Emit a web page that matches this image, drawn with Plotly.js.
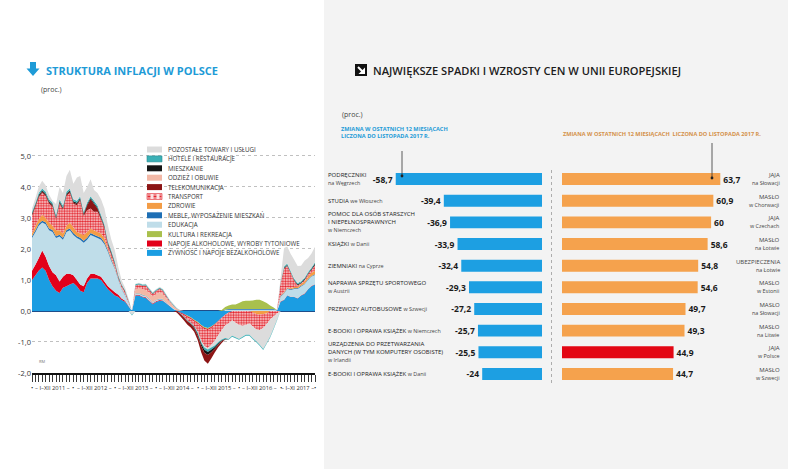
<!DOCTYPE html>
<html><head><meta charset="utf-8">
<script src="https://cdn.plot.ly/plotly-3.0.1.min.js"></script>
<style>html,body{margin:0;padding:0;background:#fff;}#chart{width:788px;height:469px;}</style>
</head><body><div id="chart"></div>
<script>
// ---------- DATA: inflation structure (percentage points), Jan 2011 - Nov 2017 ----------
const years = ['2011','2012','2013','2014','2015','2016','2017'];
const yearRanges = ['I–XII','I–XII','I–XII','I–XII','I–XII','I–XII','I–XI'];
const yTickVals = [-2,-1,0,1,2,3,4,5];
const yTickText = ['-2,0','-1,0','0,0','1,0','2,0','3,0','4,0','5,0'];

const zywnosc = [1.0,1.15,1.3,1.4,1.3,1.0,0.8,0.65,0.58,0.75,0.8,0.85,
 0.9,0.8,0.65,0.6,0.9,1.05,1.05,1.05,1.0,0.85,0.7,0.6,
 0.5,0.45,0.35,0.3,0.15,0,0.5,0.5,0.45,0.42,0.32,0.22,
 0.3,0.33,0.32,0.24,0.15,0.06,0,-0.05,-0.1,-0.15,-0.2,-0.28,
 -0.35,-0.45,-0.52,-0.55,-0.5,-0.42,-0.32,-0.22,-0.12,-0.05,0,0,
 0,0,0,0,0,0,0,0,0,0,0,0,
 0.3,0.35,0.5,0.45,0.45,0.4,0.5,0.55,0.7,0.8,0.85];
const alkohol = [0.3,0.35,0.4,0.55,0.45,0.45,0.45,0.5,0.37,0.35,0.4,0.35,
 0.25,0.2,0.2,0.2,0.15,0.15,0.15,0.1,0.1,0.1,0.1,0.1,
 0.1,0.07,0.05,0.03,0.02,0,0.02,0.02,0.02,0.02,0.02,0.02,
 0.02,0.02,0.02,0.01,0.01,0,0,-0.02,-0.03,-0.03,-0.03,-0.03,
 -0.03,-0.03,-0.03,-0.03,-0.03,-0.02,-0.02,0,0,0,0,0,
 0,0,0,0,0,0,0,0,0,0,0,0,
 0.01,0.01,0.01,0.01,0.01,0.01,0.01,0.01,0.01,0.01,0.01];
const kultura = [0,0,0,0,0,0,0,0,0,0,0,0,
 0,0,0,0,0,0,0,0,0,0,0,0,
 0,0,0,0,0,0,0,0,0,0,0,0,
 0,0,0,0,0,0,0,0,0,-0.02,-0.03,-0.03,
 -0.03,-0.03,-0.03,-0.03,-0.02,-0.02,0,0.03,0.08,0.12,0.15,0.15,
 0.2,0.25,0.27,0.27,0.28,0.3,0.3,0.25,0.2,0.12,0.05,0,
 0,0,0,0,0,0,0,0,0,0,0];
const edukacja = [1.05,1.05,1.05,0.9,1.05,1.15,1.3,1.2,1.45,1.2,1.35,1.4,
 1.3,1.35,1.45,1.4,1.25,1.25,1.2,1.2,1.2,1.2,1.1,0.9,
 0.75,0.48,0.3,0.17,0.08,0,0.04,0.04,0.04,0.04,0.04,0.03,
 0.03,0.03,0.03,0.02,0.02,0.02,0.01,0,0,0,0,0,
 0,0,0,0,0,0,0,0,0.03,0.04,0.04,0.04,
 0.04,0.04,0.04,0.04,0.04,0.04,0.04,0.04,0.04,0.04,0.04,0.02,
 0.15,0.2,0.2,0.22,0.25,0.3,0.28,0.3,0.3,0.3,0.3];
const meble = [0.06,0.06,0.06,0.06,0.06,0.06,0.06,0.06,0.06,0.06,0.06,0.06,
 0.06,0.06,0.06,0.06,0.06,0.06,0.06,0.06,0.06,0.06,0.05,0.05,
 0.03,0.03,0.02,0.02,0.01,0,0.01,0.01,0.01,0.01,0.01,0.01,
 0.01,0.01,0.01,0.01,0,0,0,0,0,0,0,0,
 0,0,0,0,0,0,0,0,0.02,0.02,0.02,0.02,
 0.02,0.02,0.02,0.02,0.02,0.02,0.02,0.02,0.02,0.02,0.02,0.01,
 0.02,0.02,0.02,0.02,0.02,0.02,0.02,0.02,0.02,0.02,0.02];
const zdrowie = [0.09,0.14,0.14,0.19,0.14,0.19,0.14,0.19,0.14,0.14,0.14,0.19,
 0.19,0.14,0.14,0.19,0.19,0.14,0.14,0.14,0.14,0.14,0.05,0.05,
 0.02,0.02,0,0,0,0,0.01,0.01,0.01,0.01,0.01,0.01,
 0.01,0.01,0.01,0.01,0,0,0,0,0,0,0,0,
 0,0,0,0,0,0,0,0,0,0,0,0,
 0,0,0,0,-0.05,-0.1,-0.12,-0.1,-0.08,0,0,0,
 0.02,0.03,0.03,0.03,0.05,0.05,0.06,0.07,0.08,0.1,0.12];
const odziez = [0,0,0,0,0,0,0,0,0,0,0,0,
 0,0,0,0,0,0,0,0,0,0,0,0,
 0,0,0.03,0.03,0.02,0,0.12,0.15,0.18,0.18,0.18,0.18,
 0.18,0.2,0.16,0.12,0.1,0.08,0.05,0.02,0,0,0,0,
 0,0,0,0,0,0,0,0,0,0,0,0,
 0,0,0,0,0,0,0,0,0,0,0,0,
 0,0,0,0,0,0,0,0,0,0,0];
const transport = [0.56,0.61,0.71,0.71,0.71,0.61,0.61,0.36,0.86,0.76,0.96,0.96,
 0.76,0.86,1.06,0.61,0.7,0.65,0.6,0.65,0.46,0.31,0.11,0.11,
 0.1,0.02,0.06,0.06,0.04,0,0.12,0.12,0.1,0.14,0.1,0.08,
 0.1,0.12,0.1,0.06,0.03,0.02,0.01,0,-0.05,-0.1,-0.12,-0.15,
 -0.25,-0.45,-0.55,-0.58,-0.55,-0.5,-0.45,-0.4,-0.35,-0.35,-0.3,-0.38,
 -0.45,-0.48,-0.45,-0.4,-0.45,-0.5,-0.5,-0.45,-0.35,-0.28,-0.18,-0.08,
 0.4,0.75,0.7,0.5,0.2,0.05,0.02,0.05,0.08,0.1,0.18];
const telekom = [0.04,0.04,0.04,0.04,0.04,0.04,0.04,0.04,0.04,0.04,0.04,0.04,
 0.04,0.04,0.04,0.04,0.15,0.3,0.25,0.1,0.04,0.04,0.04,0.04,
 0.02,0.02,0.01,0.01,0,0,0,0,0,0,0,0,
 0,0,0,0,0,0,-0.05,-0.08,-0.1,-0.12,-0.12,-0.12,
 -0.15,-0.2,-0.25,-0.28,-0.2,-0.12,-0.08,-0.05,0,0,0,0,
 0,0,0,0,0,0,0,0,0,0,0,0,
 0,0,0,0,0,0,0,0,0,0,0];
const mieszkanie = [0.04,0.04,0.04,0.04,0.04,0.04,0.04,0.04,0.04,0.04,0.04,0.04,
 0.04,0.04,0.04,0.04,0.04,0.04,0.04,0.04,0.04,0.04,0.04,0.04,
 0.03,0.02,0.02,0.02,0.01,0,0.01,0.01,0.01,0.01,0.01,0.01,
 0.01,0.01,0.01,0.01,0,0,0,0,0,0,0,-0.03,
 -0.05,-0.07,-0.1,-0.1,-0.08,-0.06,-0.04,-0.03,-0.02,0,0,0,
 0,0,0,0,0,0,0,0,0,0,0,0,
 0.01,0.03,0.03,0.02,0.03,0.03,0.03,0.03,0.03,0.03,0.05];
const hotele = [0.06,0.06,0.06,0.06,0.06,0.06,0.06,0.06,0.06,0.06,0.06,0.06,
 0.06,0.06,0.06,0.06,0.06,0.06,0.06,0.06,0.06,0.06,0.06,0.06,
 0.05,0.04,0.03,0.03,0.03,-0.03,0.03,0.03,0.03,0.03,0.03,0.03,
 0.03,0.03,0.03,0.03,0.03,0.03,0.02,-0.02,-0.02,-0.02,-0.03,-0.03,
 -0.05,-0.05,-0.07,-0.08,-0.07,-0.05,-0.04,-0.03,-0.03,-0.03,-0.03,-0.03,
 -0.03,-0.03,-0.03,-0.03,-0.03,-0.03,-0.03,-0.03,-0.03,-0.03,-0.03,-0.03,
 0.03,0.04,0.04,0.04,0.04,0.04,0.04,0.04,0.04,0.04,0.04];
const pozostale = [0.1,0.15,0.2,0.25,0.2,0.15,0.05,0.35,0.4,0.4,0.5,0.6,
 0.5,0.75,0.65,0.6,0.5,0.55,0.35,0.4,0.5,0.5,0.5,0.35,
 0.35,0.25,0.13,0.08,0.04,-0.12,0.02,0.02,0.02,0.02,0.02,0.02,
 0.02,0.02,0.02,0.02,0.02,0.02,0.01,0,0,0,0,0,
 -0.03,-0.05,-0.05,-0.05,-0.08,-0.15,-0.22,-0.3,-0.4,-0.5,-0.5,-0.47,
 -0.45,-0.35,-0.32,-0.37,-0.38,-0.38,-0.47,-0.68,-0.6,-0.55,-0.38,-0.2,
 0.1,0.6,0.55,0.55,0.6,0.55,0.5,0.55,0.45,0.45,0.5];

const legendNames = ['POZOSTAŁE TOWARY I USŁUGI','HOTELE I RESTAURACJE','MIESZKANIE','ODZIEŻ I OBUWIE',
 'TELEKOMUNIKACJA','TRANSPORT','ZDROWIE','MEBLE, WYPOSAŻENIE MIESZKAŃ','EDUKACJA','KULTURA I REKREACJA',
 'NAPOJE ALKOHOLOWE, WYROBY TYTONIOWE','ŻYWNOŚĆ I NAPOJE BEZALKOHOLOWE'];

// ---------- DATA: EU price changes (%), 12 months to Nov 2017 ----------
const leftProducts = ['PODRĘCZNIKI','STUDIA','POMOC DLA OSÓB STARSZYCH<br>I NIEPEŁNOSPRAWNYCH','KSIĄŻKI','ZIEMNIAKI',
 'NAPRAWA SPRZĘTU SPORTOWEGO','PRZEWOZY AUTOBUSOWE','E-BOOKI I OPRAWA KSIĄŻEK',
 'URZĄDZENIA DO PRZETWARZANIA<br>DANYCH (W TYM KOMPUTERY OSOBISTE)','E-BOOKI I OPRAWA KSIĄŻEK'];
const leftPlaces = ['na Węgrzech','we Włoszech','w Niemczech','w Danii','na Cyprze','w Austrii','w Szwecji','w Niemczech','w Irlandii','w Danii'];
const leftValues = [-58.7,-39.4,-36.9,-33.9,-32.4,-29.3,-27.2,-25.7,-25.5,-24];
const rightProducts = ['JAJA','MASŁO','JAJA','MASŁO','UBEZPIECZENIA','MASŁO','MASŁO','MASŁO','JAJA','MASŁO'];
const rightPlaces = ['na Słowacji','w Chorwacji','w Czechach','na Łotwie','na Łotwie','w Estonii','na Słowacji','na Litwie','w Polsce','w Szwecji'];
const rightValues = [63.7,60.9,60,58.6,54.8,54.6,49.7,49.3,44.9,44.7];

// ---------- build ----------
const W = 788, H = 469;
const px = x => x / W, py = y => 1 - y / H;
const FONT = 'Open Sans, sans-serif';

const months = [];
years.forEach(y => { for (let m = 1; m <= 12; m++) { if (y === '2017' && m > 11) break; months.push(y + '-' + String(m).padStart(2, '0') + '-01'); } });

const S = {F: zywnosc, A: alkohol, C: kultura, E: edukacja, M: meble, Z: zdrowie, O: odziez, T: transport,
  K: telekom, H: mieszkanie, R: hotele, P: pozostale};
const COL = {F:'#1b9de2', A:'#e2001a', C:'#a9c04d', E:'#bfdde9', M:'#1e6fb5', Z:'#f39c45', O:'#f2b8a6',
  T:'#ffffff', K:'#8c1515', H:'#151515', R:'#3bb0b6', P:'#dcdcdc'};
const legendKeys = ['P','R','H','O','K','T','Z','M','E','C','A','F'];
const posOrder = ['F','A','E','M','Z','O','T','K','H','R','P','C'];
const negOrder = ['F','C','A','E','M','Z','O','T','P','R','H','K'];
const pattern = {shape: '.', fgcolor: '#e3262f', bgcolor: '#fbe3e3', size: 2.6, solidity: 0.55};

const traces = [];
function addStack(order, grp, sel) {
  order.forEach(k => {
    const t = {type: 'scatter', mode: 'none', x: months, y: S[k].map(sel), stackgroup: grp,
      fillcolor: COL[k], hoverinfo: 'skip', showlegend: false, xaxis: 'x', yaxis: 'y'};
    if (k === 'T') t.fillpattern = pattern;
    traces.push(t);
  });
}
addStack(posOrder, 'pos', v => v > 0 ? v : 0);
addStack(negOrder, 'neg', v => v < 0 ? v : 0);

const fmt = v => String(v).replace('.', ',');
const leftCats = leftProducts.map((p, i) => p + ' ' + leftPlaces[i]);
const rightCats = rightProducts.map((p, i) => p + ' ' + rightPlaces[i]);

traces.push({type: 'bar', orientation: 'h', x: leftValues, y: leftCats, xaxis: 'x2', yaxis: 'y2',
  marker: {color: '#1d9fe2'}, text: leftValues.map(fmt), textposition: 'outside', cliponaxis: false,
  constraintext: 'none', textfont: {family: FONT, size: 8.5, color: '#1a1a1a', weight: 700},
  hoverinfo: 'skip', showlegend: false});
traces.push({type: 'bar', orientation: 'h', x: rightValues, y: rightCats, xaxis: 'x3', yaxis: 'y3',
  marker: {color: rightPlaces.map(p => p === 'w Polsce' ? '#e30613' : '#f5a24d')},
  text: rightValues.map(fmt), textposition: 'outside', cliponaxis: false, constraintext: 'none',
  textfont: {family: FONT, size: 8.5, color: '#1a1a1a', weight: 700}, hoverinfo: 'skip', showlegend: false});

const shapes = [];
const rectPx = (x0, y0, x1, y1, fill, layer, line) => ({type: 'rect', xref: 'paper', yref: 'paper',
  x0: px(x0), x1: px(x1), y0: py(y1), y1: py(y0), fillcolor: fill, line: line || {width: 0}, layer: layer || 'above'});
const linePx = (x0, y0, x1, y1, color, width, dash) => ({type: 'line', xref: 'paper', yref: 'paper',
  x0: px(x0), x1: px(x1), y0: py(y0), y1: py(y1), line: {color, width, dash: dash || 'solid'}});
const pathPx = (pts, fill) => ({type: 'path', xref: 'paper', yref: 'paper',
  path: 'M' + pts.map(p => px(p[0]).toFixed(5) + ',' + py(p[1]).toFixed(5)).join('L') + 'Z',
  fillcolor: fill, line: {width: 0}});

// right panel background
shapes.push(rectPx(324, 0, 788, 469, '#f3f3f3', 'below'));
// white area behind legend (hides gridlines)
shapes.push(rectPx(142, 144, 302, 246, '#ffffff', 'between'));
shapes.push(rectPx(142, 246, 280, 258, '#ffffff', 'between'));
// icons
shapes.push(pathPx([[30,62],[36,62],[36,68.5],[39.5,68.5],[33,76],[26.5,68.5],[30,68.5]], '#1e9bd7'));
shapes.push(rectPx(355, 64, 367, 76, '#111111'));
shapes.push(linePx(358, 67, 363, 72, '#ffffff', 2));
shapes.push(pathPx([[365,67.5],[365,74],[358.5,74]], '#ffffff'));
// dotted separator and connectors in bar panel
shapes.push(linePx(551.5, 170, 551.5, 386, '#9a9a9a', 0.8, 'dot'));
shapes.push(linePx(402, 151, 402, 176, '#333333', 0.8));
shapes.push({type: 'circle', xref: 'paper', yref: 'paper', x0: px(400.6), x1: px(403.4), y0: py(177.4), y1: py(174.6), fillcolor: '#222', line: {width: 0}});
shapes.push(linePx(712, 143, 712, 178, '#333333', 0.8));
shapes.push({type: 'circle', xref: 'paper', yref: 'paper', x0: px(710.6), x1: px(713.4), y0: py(179.4), y1: py(176.6), fillcolor: '#222', line: {width: 0}});

const annotations = [];
const ann = (o) => annotations.push(Object.assign({showarrow: false, xref: 'paper', yref: 'paper'}, o));
ann({x: px(44), y: py(70), xanchor: 'left', yanchor: 'middle', text: 'STRUKTURA INFLACJI W POLSCE',
  font: {family: FONT, size: 11, color: '#1e9bd7', weight: 700}});
ann({x: px(371), y: py(70), xanchor: 'left', yanchor: 'middle', text: 'NAJWIĘKSZE SPADKI I WZROSTY CEN W UNII EUROPEJSKIEJ',
  font: {family: FONT, size: 11.1, color: '#1c1c1c', weight: 600}});
ann({x: px(39), y: py(89), xanchor: 'left', yanchor: 'middle', text: '(proc.)', font: {family: FONT, size: 7, color: '#444'}});
ann({x: px(340), y: py(114), xanchor: 'left', yanchor: 'middle', text: '(proc.)', font: {family: FONT, size: 7, color: '#444'}});
ann({x: px(339), y: py(133), xanchor: 'left', yanchor: 'middle', align: 'left',
  text: 'ZMIANA W OSTATNICH 12 MIESIĄCACH<br>LICZONA DO LISTOPADA 2017 R.', font: {family: FONT, size: 5.6, color: '#1e9bd7', weight: 700}});
ann({x: px(561), y: py(134), xanchor: 'left', yanchor: 'middle',
  text: 'ZMIANA W OSTATNICH 12 MIESIĄCACH  LICZONA DO LISTOPADA 2017 R.', font: {family: FONT, size: 5.6, color: '#d4914a', weight: 700}});
ann({x: px(37), y: py(361), xanchor: 'left', yanchor: 'middle', text: 'RM', font: {family: FONT, size: 4, color: '#777'}});

// legend (manual, compact)
legendKeys.forEach((k, i) => {
  const yc = 149.5 + i * 9.4;
  if (k === 'T') {
    shapes.push(rectPx(147, yc - 3, 162, yc + 3, '#fbe3e3', 'above', {width: 0.6, color: '#e3262f'}));
    [-1.5, 0, 1.5].forEach(d => shapes.push(linePx(147.5, yc + d, 161.5, yc + d, '#e3262f', 1, 'dot')));
  } else {
    shapes.push(rectPx(147, yc - 3, 162, yc + 3, COL[k], 'above', k === 'R' ? {width: 0.6, color: '#2a8f94'} : {width: 0}));
  }
  ann({x: px(166), y: py(yc), xanchor: 'left', yanchor: 'middle', text: legendNames[i], font: {family: FONT, size: 6.2, color: '#333'}});
});

// year labels under the time axis
years.forEach((y, i) => {
  ann({xref: 'x', x: (y === '2017' ? '2017-06-01' : y + '-07-01'), y: py(388), yanchor: 'middle',
    text: '– ' + yearRanges[i] + ' ' + y + ' –', font: {family: FONT, size: 5.8, color: '#333'}});
  ann({xref: 'x', x: y + '-01-01', y: py(388), yanchor: 'middle', text: '•', font: {family: FONT, size: 6, color: '#222'}});
});
ann({xref: 'x', x: months[months.length - 1], y: py(388), yanchor: 'middle', text: '•', font: {family: FONT, size: 6, color: '#222'}});

// bar category labels
leftCats.forEach((c, i) => {
  const multi = leftProducts[i].indexOf('<br>') >= 0 || leftPlaces[i] === 'na Węgrzech' || leftProducts[i].startsWith('NAPRAWA');
  ann({yref: 'y2', y: c, x: px(326), xanchor: 'left', yanchor: 'middle', align: 'left',
    text: leftProducts[i] + (multi ? '<br>' : ' ') + '<span style="font-size:5.4px;color:#444">' + leftPlaces[i] + '</span>',
    font: {family: FONT, size: 6, color: '#222'}});
});
rightCats.forEach((c, i) => {
  ann({yref: 'y3', y: c, x: px(782), xanchor: 'right', yanchor: 'middle', align: 'right',
    text: rightProducts[i] + '<br><span style="font-size:5.4px">' + rightPlaces[i] + '</span>',
    font: {family: FONT, size: 6, color: '#444'}});
});

const layout = {
  width: W, height: H, margin: {l: 0, r: 0, t: 0, b: 0, pad: 0},
  paper_bgcolor: '#ffffff', plot_bgcolor: 'rgba(0,0,0,0)', separators: ',.',
  showlegend: false, font: {family: FONT},
  xaxis: {domain: [px(32), px(315)], type: 'date', range: ['2011-01-01', '2017-11-01'],
    showgrid: false, zeroline: false, showticklabels: false, ticks: 'outside', tick0: '2011-01-01', dtick: 'M1',
    ticklen: 7, tickwidth: 0.9, tickcolor: '#222', showline: true, linecolor: '#111', linewidth: 2, fixedrange: true},
  yaxis: {domain: [py(373), py(150)], range: [-2, 5.19], tickvals: yTickVals, ticktext: yTickText,
    showgrid: true, gridcolor: '#b0b0b0', griddash: 'dot', gridwidth: 0.8,
    zeroline: true, zerolinecolor: '#1f4e8a', zerolinewidth: 2, ticks: '',
    tickfont: {family: FONT, size: 7.5, color: '#333'}, fixedrange: true},
  xaxis2: {domain: [px(390), px(542)], range: [-61, 0], anchor: 'y2', visible: false, fixedrange: true},
  yaxis2: {domain: [py(384.8), py(168.2)], anchor: 'x2', type: 'category', autorange: 'reversed', visible: false, fixedrange: true},
  xaxis3: {domain: [px(562), px(562 + 70 * 2.485)], range: [0, 70], anchor: 'y3', visible: false, fixedrange: true},
  yaxis3: {domain: [py(384.8), py(168.2)], anchor: 'x3', type: 'category', autorange: 'reversed', visible: false, fixedrange: true},
  bargap: 0.45,
  shapes, annotations
};

Plotly.newPlot('chart', traces, layout, {staticPlot: true, displayModeBar: false});
</script></body></html>
